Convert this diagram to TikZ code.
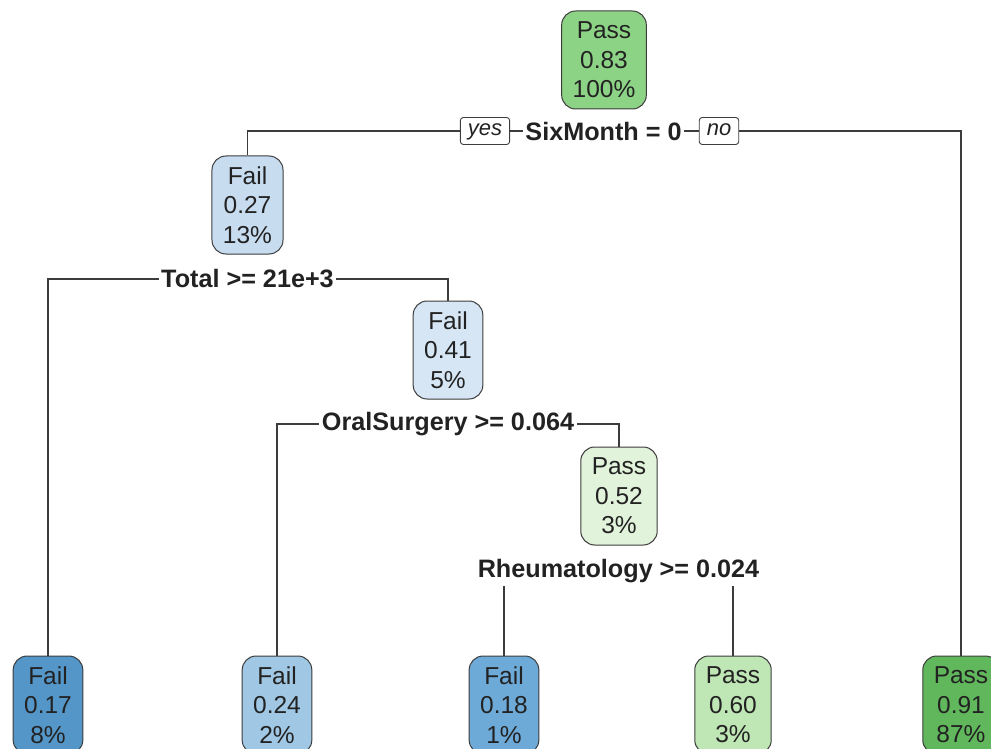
\documentclass[tikz,border=0pt]{standalone}
\usepackage{fontspec}
\setmainfont{Liberation Sans}
\begin{document}
\definecolor{inkgray}{RGB}{34,34,34}
\definecolor{edgegray}{RGB}{60,60,60}
\definecolor{gRoot}{RGB}{141,211,133}
\definecolor{gDark}{RGB}{97,184,92}
\definecolor{gMid}{RGB}{191,230,181}
\definecolor{gPale}{RGB}{226,243,220}
\definecolor{bLight}{RGB}{200,220,240}
\definecolor{bPale}{RGB}{214,230,245}
\definecolor{bMid}{RGB}{160,200,228}
\definecolor{bDeep}{RGB}{84,150,200}
\definecolor{bDark}{RGB}{110,170,215}
\begin{tikzpicture}[x=1pt,y=-1pt,
  treebox/.style={draw=edgegray,line width=1pt,rounded corners=14pt,
    align=center,text=inkgray,inner xsep=11pt,inner ysep=0pt,
    minimum height=98pt,font=\fontsize{24.5}{29.5}\selectfont},
  splitlabel/.style={fill=white,inner xsep=2.5pt,inner ysep=3pt,text=inkgray,
    font=\fontsize{25.2}{30}\selectfont\bfseries},
  branchtag/.style={draw=edgegray,fill=white,line width=0.9pt,rounded corners=3pt,
    inner xsep=7.5pt,inner ysep=0pt,minimum height=27pt,text=inkgray,
    text height=13pt,text depth=3pt,
    font=\fontsize{22}{26}\selectfont\itshape},
  conn/.style={draw=edgegray,line width=1.1pt}]
\useasboundingbox (0,0) rectangle (991,749);

% inner nodes
\node[treebox,fill=gRoot]  (root) at (604,60)  {Pass\\0.83\\100\%};
\node[treebox,fill=bLight] (n2)   at (247.5,205) {Fail\\0.27\\13\%};
\node[treebox,fill=bPale]  (n3)   at (448,350) {Fail\\0.41\\5\%};
\node[treebox,fill=gPale]  (n4)   at (619,496) {Pass\\0.52\\3\%};

% leaves
\node[treebox,fill=bDeep] (l1) at (48,705)  {Fail\\0.17\\8\%};
\node[treebox,fill=bMid]  (l2) at (277,705) {Fail\\0.24\\2\%};
\node[treebox,fill=bDark] (l3) at (504,705) {Fail\\0.18\\1\%};
\node[treebox,fill=gMid]  (l4) at (733,705) {Pass\\0.60\\3\%};
\node[treebox,fill=gDark] (l5) at (961,705) {Pass\\0.91\\87\%};

% split rules
\node[splitlabel] (s1) at (603.5,131) {SixMonth = 0};
\node[splitlabel] (s2) at (247.5,279) {Total >= 21e+3};
\node[splitlabel] (s3) at (448,424)   {OralSurgery >= 0.064};
\node[splitlabel] (s4) at (618.5,571) {Rheumatology >= 0.024};

\node[branchtag] (yes) at (485,131) {yes};
\node[branchtag] (no)  at (719,131) {no};

% connectors
\draw[conn] (yes.west) -| (n2.north);
\draw[conn] (yes.east) -- (s1.west);
\draw[conn] (s1.east) -- (no.west);
\draw[conn] (no.east) -| (l5.north);

\draw[conn] (s2.west) -| (l1.north);
\draw[conn] (s2.east) -| (n3.north);

\draw[conn] (s3.west) -| (l2.north);
\draw[conn] (s3.east) -| (n4.north);

\draw[conn] (s4.south -| l3.north) -- (l3.north);
\draw[conn] (s4.south -| l4.north) -- (l4.north);
\end{tikzpicture}
\end{document}
